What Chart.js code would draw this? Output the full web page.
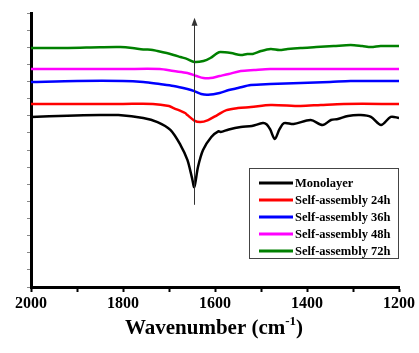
<!DOCTYPE html>
<html>
<head>
<meta charset="utf-8">
<script src="https://cdn.jsdelivr.net/npm/chart.js@4.4.1/dist/chart.umd.min.js"></script>
<style>
  html, body { margin: 0; padding: 0; background: #fff; }
  #wrap { width: 419px; height: 353px; }
</style>
</head>
<body>
<div id="wrap"><canvas id="ftir" width="419" height="353"></canvas></div>
<script>
// series labels and colours
const seriesNames = ["Monolayer", "Self-assembly 24h", "Self-assembly 36h", "Self-assembly 48h", "Self-assembly 72h"];
const seriesColors = ["#000000", "#ff0000", "#0000ff", "#ff00ff", "#008000"];

// Monolayer
const monoWn = [2000, 1921, 1850, 1810, 1756, 1725, 1697, 1675, 1660, 1650, 1645, 1637, 1626, 1608, 1592, 1588, 1570, 1544, 1520, 1496, 1488, 1480, 1470, 1460, 1450, 1429, 1392, 1366, 1348, 1333, 1311, 1283, 1261, 1239, 1218, 1200];
const monoT = [9.93, 10.0, 10.04, 10.04, 9.87, 9.63, 9.17, 8.29, 7.42, 6.37, 5.84, 7.01, 8.0, 8.76, 9.1, 9.05, 9.2, 9.34, 9.4, 9.57, 9.5, 9.2, 8.64, 9.2, 9.57, 9.52, 9.75, 9.46, 9.75, 9.81, 9.99, 10.04, 9.93, 9.46, 9.93, 9.87];

// Self-assembly 24h
const sa24Wn = [2000, 1900, 1800, 1735, 1700, 1690, 1665, 1660, 1645, 1632, 1615, 1595, 1575, 1550, 1522, 1479, 1414, 1370, 1320, 1200];
const sa24T = [10.69, 10.69, 10.69, 10.69, 10.57, 10.45, 10.16, 10.04, 9.72, 9.63, 9.75, 10.04, 10.33, 10.45, 10.51, 10.63, 10.57, 10.63, 10.69, 10.69];

// Self-assembly 36h
const sa36Wn = [2000, 1900, 1800, 1756, 1720, 1690, 1660, 1645, 1630, 1615, 1590, 1570, 1550, 1522, 1480, 1414, 1350, 1305, 1200];
const sa36T = [11.97, 12.03, 12.03, 11.97, 11.85, 11.74, 11.56, 11.44, 11.27, 11.23, 11.33, 11.5, 11.62, 11.79, 11.85, 11.91, 11.97, 12.03, 12.03];

// Self-assembly 48h
const sa48Wn = [2000, 1900, 1800, 1720, 1690, 1660, 1640, 1625, 1610, 1590, 1570, 1544, 1515, 1480, 1400, 1300, 1200];
const sa48T = [12.73, 12.73, 12.73, 12.73, 12.61, 12.5, 12.32, 12.2, 12.2, 12.32, 12.44, 12.61, 12.67, 12.73, 12.73, 12.73, 12.73];

// Self-assembly 72h
const sa72Wn = [2000, 1920, 1850, 1806, 1780, 1756, 1740, 1725, 1705, 1690, 1675, 1660, 1645, 1625, 1610, 1595, 1588, 1565, 1544, 1530, 1518, 1500, 1479, 1460, 1442, 1414, 1380, 1342, 1305, 1280, 1261, 1240, 1200];
const sa72T = [13.96, 13.96, 14.0, 14.01, 13.96, 13.87, 13.86, 13.78, 13.66, 13.55, 13.43, 13.31, 13.14, 13.2, 13.37, 13.66, 13.72, 13.66, 13.55, 13.61, 13.61, 13.78, 13.9, 13.84, 13.9, 13.96, 14.01, 14.07, 14.13, 14.07, 14.01, 14.07, 14.07];

// x axis ticks (labels only every 200)
const xTickLabels = [2000, 1800, 1600, 1400, 1200];

// arrow marking the amide band
const arrowWn = 1645;
const arrowFrom = 4.8;
const arrowTo = 15.6;

const serif = "'Liberation Serif', 'Times New Roman', serif";

function pairs(xs, ys) {
    return xs.map((x, i) => ({ x: x, y: ys[i] }));
}

const allSeries = [
    pairs(monoWn, monoT),
    pairs(sa24Wn, sa24T),
    pairs(sa36Wn, sa36T),
    pairs(sa48Wn, sa48T),
    pairs(sa72Wn, sa72T)
];

// arrow + x title + legend box
const decorPlugin = {
    id: 'decor',
    afterDatasetsDraw(chart) {
        const ctx = chart.ctx;
        const xs = chart.scales.x, ys = chart.scales.y;
        const area = chart.chartArea;

        // arrow
        const ax = Math.round(xs.getPixelForValue(arrowWn)) + 0.5;
        const y0 = ys.getPixelForValue(arrowFrom);
        const y1 = ys.getPixelForValue(arrowTo);
        ctx.save();
        ctx.strokeStyle = '#333';
        ctx.fillStyle = '#333';
        ctx.lineWidth = 1;
        ctx.beginPath();
        ctx.moveTo(ax, y0);
        ctx.lineTo(ax, y1 + 4);
        ctx.stroke();
        ctx.beginPath();
        ctx.moveTo(ax, y1 - 2);
        ctx.lineTo(ax - 3, y1 + 6);
        ctx.lineTo(ax + 3, y1 + 6);
        ctx.closePath();
        ctx.fill();
        ctx.restore();

        // x title with superscript
        ctx.save();
        ctx.fillStyle = '#000';
        ctx.textBaseline = 'alphabetic';
        const main = 'Wavenumber (cm';
        const sup = '-1';
        const close = ')';
        ctx.font = 'bold 21px ' + serif;
        const w1 = ctx.measureText(main).width;
        const w3 = ctx.measureText(close).width;
        ctx.font = 'bold 13px ' + serif;
        const w2 = ctx.measureText(sup).width;
        const total = w1 + w2 + w3;
        let tx = (area.left + area.right) / 2 - total / 2 - 1;
        const ty = 334;
        ctx.font = 'bold 21px ' + serif;
        ctx.fillText(main, tx, ty);
        ctx.font = 'bold 13px ' + serif;
        ctx.fillText(sup, tx + w1, ty - 9);
        ctx.font = 'bold 21px ' + serif;
        ctx.fillText(close, tx + w1 + w2, ty);
        ctx.restore();

        // legend
        const bx = area.right - 150, by = 168, bw = 150, bh = 91;
        ctx.save();
        ctx.fillStyle = '#fff';
        ctx.fillRect(bx, by, bw, bh);
        ctx.strokeStyle = '#444';
        ctx.lineWidth = 1;
        ctx.strokeRect(bx + 0.5, by + 0.5, bw - 1, bh - 1);
        ctx.font = 'bold 12.5px ' + serif;
        ctx.textBaseline = 'middle';
        chart.data.datasets.forEach((ds, i) => {
            const ry = by + 15 + i * 17;
            ctx.strokeStyle = ds.borderColor;
            ctx.lineWidth = 3;
            ctx.beginPath();
            ctx.moveTo(bx + 10, ry);
            ctx.lineTo(bx + 44, ry);
            ctx.stroke();
            ctx.fillStyle = '#000';
            ctx.fillText(ds.label, bx + 46, ry + 1);
        });
        ctx.restore();
    }
};

const ctx = document.getElementById('ftir').getContext('2d');

new Chart(ctx, {
    type: 'line',
    data: {
        datasets: allSeries.map((pts, i) => ({
            label: seriesNames[i],
            data: pts,
            borderColor: seriesColors[i],
            backgroundColor: seriesColors[i],
            borderWidth: 2.5,
            pointRadius: 0,
            tension: 0.3,
            fill: false
        }))
    },
    options: {
        responsive: false,
        animation: false,
        layout: { padding: { top: 13, right: 20, left: 0, bottom: 0 } },
        plugins: {
            legend: { display: false },
            tooltip: { enabled: false }
        },
        scales: {
            x: {
                type: 'linear',
                reverse: true,
                min: 1200,
                max: 2000,
                afterFit: s => { s.height = 66; },
                border: { display: true, color: '#000', width: 3 },
                grid: { drawOnChartArea: false, drawTicks: true, tickLength: 5, tickWidth: 2, tickColor: '#000' },
                ticks: {
                    stepSize: 100,
                    padding: 2,
                    color: '#000',
                    font: { family: serif, size: 16, weight: 'bold' },
                    maxRotation: 0,
                    autoSkip: false,
                    callback: v => xTickLabels.includes(v) ? String(v) : ''
                }
            },
            y: {
                type: 'linear',
                min: 0,
                max: 16,
                afterFit: s => { s.width = 31; },
                border: { display: true, color: '#000', width: 3 },
                grid: { drawOnChartArea: false, drawTicks: true, tickLength: 4, tickWidth: 1, tickColor: '#888' },
                ticks: {
                    stepSize: 1,
                    padding: 0,
                    autoSkip: false,
                    callback: () => ''
                }
            }
        }
    },
    plugins: [decorPlugin]
});
</script>
</body>
</html>
